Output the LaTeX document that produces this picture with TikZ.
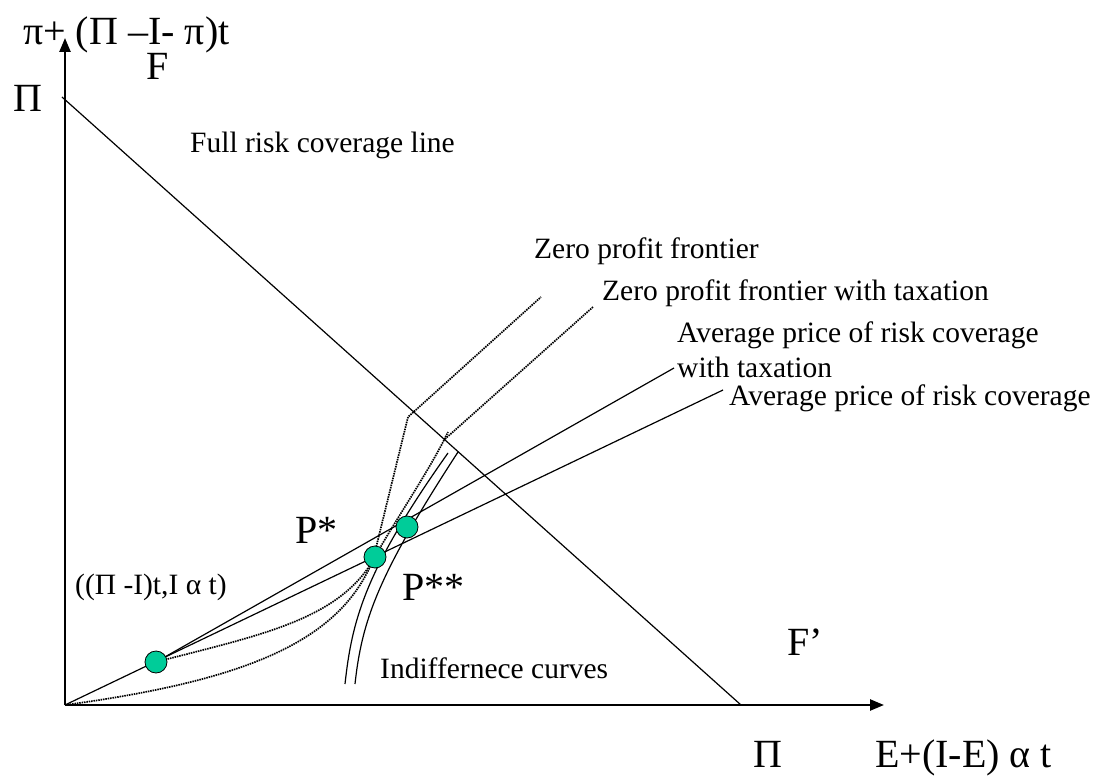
\documentclass[tikz,border=0pt]{standalone}
\usepackage{fontspec}
\setmainfont{Liberation Serif}
\usetikzlibrary{arrows.meta}
\definecolor{dotgreen}{RGB}{0,204,153}
\begin{document}
\begin{tikzpicture}[x=1pt,y=-1pt,
  axisline/.style={line width=2.4pt,-{Triangle[length=14pt,width=11pt]}},
  plainline/.style={line width=1.2pt},
  dotline/.style={line width=1.7pt,dash pattern=on 1.5pt off 0.9pt},
  ptdot/.style={circle,draw=black,line width=0.8pt,fill=dotgreen,minimum size=22pt,inner sep=0pt},
  lbl/.style={anchor=base west,inner sep=0pt,font=\fontsize{29.5}{35}\selectfont},
  biglbl/.style={anchor=base west,inner sep=0pt,font=\fontsize{40}{48}\selectfont}]
\useasboundingbox (0,0) rectangle (1105,778);
% axes
\coordinate (O) at (65,705);
\coordinate (Xend) at (884,705);
\coordinate (Yend) at (65,38);
\draw[axisline] (O) -- (Xend);
\draw[axisline] (O) -- (Yend);
% full risk coverage line
\coordinate (FA) at (62,97);
\coordinate (FB) at (741,705);
\draw[plainline] (FA) -- (FB);
% dot positions
\coordinate (D1c) at (156,662);
\coordinate (PSSc) at (375,557);
\coordinate (PSc) at (407,527);
% average price lines
\coordinate (A1end) at (723,390);
\coordinate (A2end) at (674,368);
\draw[plainline] (O) -- (A1end);
\draw[plainline] (D1c) -- (A2end);
% zero profit frontiers (dotted)
\coordinate (K1) at (408,417);
\coordinate (Z1end) at (541,297);
\coordinate (K2) at (448,432);
\coordinate (K2b) at (445,439);
\coordinate (Z2end) at (593,307);
\draw[dotline] (O) .. controls (250,680) and (340,640) .. (373,560) -- (K1) -- (Z1end);
\draw[dotline] (D1c) .. controls (260,635) and (340,620) .. (PSSc) .. controls (392,525) and (430,470) .. (K2);
\draw[dotline] (K2b) -- (Z2end);
% indifference curves
\coordinate (I1a) at (345,684);
\coordinate (I1b) at (448,453);
\coordinate (I2a) at (355,684);
\coordinate (I2b) at (458,452);
\draw[plainline] (I1a) .. controls (352,620) and (365,570) .. (I1b);
\draw[plainline] (I2a) .. controls (362,620) and (378,575) .. (I2b);
% dots
\node[ptdot] (D1) at (D1c) {};
\node[ptdot] (PSS) at (PSSc) {};
\node[ptdot] (PS) at (PSc) {};
% labels
\node[biglbl] (ylab) at (23,45) {π+ (Π –I- π)t};
\node[biglbl] (Flab) at (146,80) {F};
\node[biglbl] (PiY) at (13,112) {Π};
\node[lbl] (full) at (190,153) {Full risk coverage line};
\node[lbl] (zpf) at (534,258) {Zero profit frontier};
\node[lbl] (zpft) at (602,300) {Zero profit frontier with taxation};
\node[lbl] (apt1) at (677,342) {Average price of risk coverage};
\node[lbl] (apt2) at (677,377) {with taxation};
\node[lbl] (ap) at (729,405) {Average price of risk coverage};
\node[biglbl] (Pst) at (295,543) {P*};
\node[biglbl] (Psst) at (402,600) {P**};
\node[lbl] (pt1) at (75,594) {((Π -I)t,I α t)};
\node[lbl] (ind) at (380,678) {Indiffernece curves};
\node[biglbl] (Fp) at (787,655) {F’};
\node[biglbl] (PiX) at (753,767) {Π};
\node[biglbl] (xlab) at (875,767) {E+(I-E) α t};
\end{tikzpicture}
\end{document}
